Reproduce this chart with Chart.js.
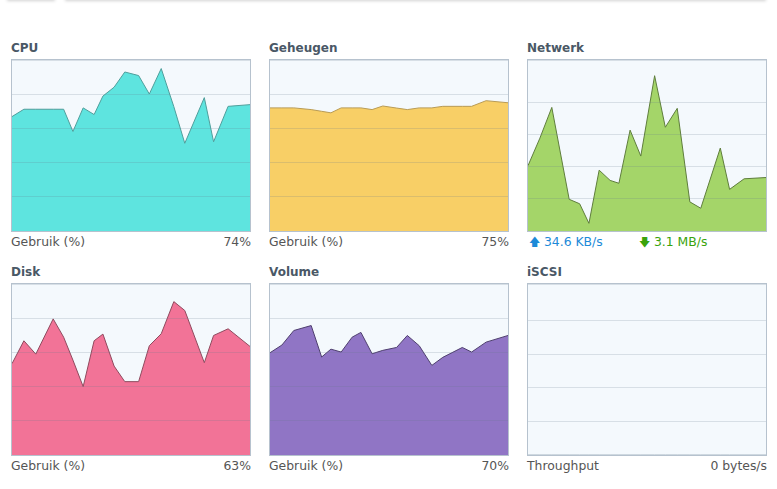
<!DOCTYPE html>
<html>
<head>
<meta charset="utf-8">
<script src="https://cdn.jsdelivr.net/npm/chart.js@4.4.1/dist/chart.umd.min.js"></script>
<style>
  body { margin: 0; background: #fff; width: 777px; height: 489px; overflow: hidden; position: relative; font-family: "DejaVu Sans", Verdana, sans-serif; }
  .tab { position: absolute; top: -20px; height: 20px; background: #fff; box-shadow: 0 1px 3px rgba(0,0,0,0.18); }
  .title { position: absolute; font-weight: bold; font-size: 12px; color: #4a5866; line-height: 14px; }
  .box { position: absolute; width: 238px; height: 171px; border: 1px solid #b6c2ce; background: #f4f9fd; }
  .box canvas { display: block; }
  .lbl { position: absolute; font-size: 12.4px; color: #555; line-height: 14px; white-space: nowrap; }
  .right { text-align: right; }
  .up { color: #1d8ad8; }
  .down { color: #3aa30c; }
</style>
</head>
<body>
<div class="tab" style="left:7px;width:48px"></div>
<div class="tab" style="left:65px;width:701px"></div>

<div class="title" style="left:11px;top:41px">CPU</div>
<div class="box" style="left:11px;top:59px"><canvas id="cpu"></canvas></div>
<div class="lbl" style="left:11px;top:235px">Gebruik (%)</div>
<div class="lbl right" style="left:151px;width:100px;top:235px">74%</div>

<div class="title" style="left:269px;top:41px">Geheugen</div>
<div class="box" style="left:269px;top:59px"><canvas id="mem"></canvas></div>
<div class="lbl" style="left:269px;top:235px">Gebruik (%)</div>
<div class="lbl right" style="left:409px;width:100px;top:235px">75%</div>

<div class="title" style="left:527px;top:41px">Netwerk</div>
<div class="box" style="left:527px;top:59px"><canvas id="net"></canvas></div>
<div class="lbl up" style="left:529px;top:235px"><span style="font-size:11px">&#129093;</span> 34.6 KB/s</div>
<div class="lbl down" style="left:639px;top:235px"><span style="font-size:11px">&#129095;</span> 3.1 MB/s</div>

<div class="title" style="left:11px;top:265px">Disk</div>
<div class="box" style="left:11px;top:283px"><canvas id="disk"></canvas></div>
<div class="lbl" style="left:11px;top:459px">Gebruik (%)</div>
<div class="lbl right" style="left:151px;width:100px;top:459px">63%</div>

<div class="title" style="left:269px;top:265px">Volume</div>
<div class="box" style="left:269px;top:283px"><canvas id="vol"></canvas></div>
<div class="lbl" style="left:269px;top:459px">Gebruik (%)</div>
<div class="lbl right" style="left:409px;width:100px;top:459px">70%</div>

<div class="title" style="left:527px;top:265px">iSCSI</div>
<div class="box" style="left:527px;top:283px"><canvas id="iscsi"></canvas></div>
<div class="lbl" style="left:527px;top:459px">Throughput</div>
<div class="lbl right" style="left:617px;width:150px;top:459px">0 bytes/s</div>

<script>
// sample moments (share of the visible time window, 0..100)
const sampleTimes = [0, 5.0, 10.0, 17.3, 21.7, 25.6, 29.9, 34.5, 38.2, 42.9, 47.4, 53.2, 57.7, 62.7, 68.0, 72.6, 80.8, 84.7, 90.8, 100];

const cpuUsage = [66.9, 71.2, 71.2, 71.2, 71.2, 58.2, 72.0, 68.1, 78.9, 84.1, 93.0, 90.9, 80.1, 95.0, 72.7, 51.3, 78.0, 52.2, 72.9, 73.9];
const memUsage = [72.0, 72.0, 72.0, 71.0, 70.0, 69.1, 72.0, 72.0, 72.0, 71.0, 73.1, 71.9, 71.0, 72.0, 72.0, 72.9, 72.9, 72.9, 76.2, 75.0];
const netMBs = [2.04, 2.90, 3.86, 0.99, 0.85, 0.24, 1.90, 1.58, 1.49, 3.15, 2.34, 4.85, 3.24, 3.83, 0.91, 0.71, 2.59, 1.30, 1.63, 1.67];
const diskUsage = [53.4, 66.8, 59.0, 79.6, 68.9, 55.5, 40.0, 66.8, 70.7, 52.0, 42.9, 42.9, 63.9, 70.9, 89.7, 84.5, 54.0, 69.9, 73.8, 63.5];
const volUsage = [59.8, 64.3, 72.8, 75.7, 57.3, 61.9, 60.2, 68.9, 71.7, 59.2, 61.2, 62.9, 69.9, 63.9, 52.4, 57.1, 62.9, 60.2, 66.0, 69.9];
const iscsiBytes = [0, 0, 0, 0, 0, 0, 0, 0, 0, 0, 0, 0, 0, 0, 0, 0, 0, 0, 0, 0];

function points(values) {
  return values.map(function (v, i) { return { x: sampleTimes[i], y: v }; });
}

function makeChart(id, values, fillColor, lineColor, yMax, step) {
  new Chart(document.getElementById(id), {
    type: "line",
    data: {
      datasets: [
        {
          data: points(values),
          backgroundColor: fillColor,
          borderColor: lineColor,
          borderWidth: 1,
          fill: "origin",
          pointRadius: 0,
          tension: 0,
        },
      ],
    },
    options: {
      responsive: false,
      animation: false,
      events: [],
      layout: { padding: 0 },
      plugins: { legend: { display: false }, tooltip: { enabled: false } },
      scales: {
        x: { type: "linear", min: 0, max: 100, display: false },
        y: {
          min: 0,
          max: yMax,
          ticks: { display: false, stepSize: step },
          border: { display: false },
          grid: { color: "rgba(100,120,140,0.2)", drawTicks: false, tickLength: 0, z: 1 },
          afterFit: function (axis) { axis.width = 0; },
        },
      },
    },
  });
}

document.querySelectorAll(".box canvas").forEach(function (c) {
  c.width = 238;
  c.height = 171;
});

makeChart("cpu", cpuUsage, "#5ee4df", "#4f9e9b", 100, 20);
makeChart("mem", memUsage, "#f8cf66", "#b89b55", 100, 20);
makeChart("net", netMBs, "#a4d569", "#5e7d3c", 5.34, 1);
makeChart("disk", diskUsage, "#f27397", "#8e4a5e", 100, 20);
makeChart("vol", volUsage, "#9075c5", "#4e3f6e", 100, 20);
makeChart("iscsi", iscsiBytes, "rgba(0,0,0,0)", "#a9b6c3", 5.1, 1);
</script>
</body>
</html>
